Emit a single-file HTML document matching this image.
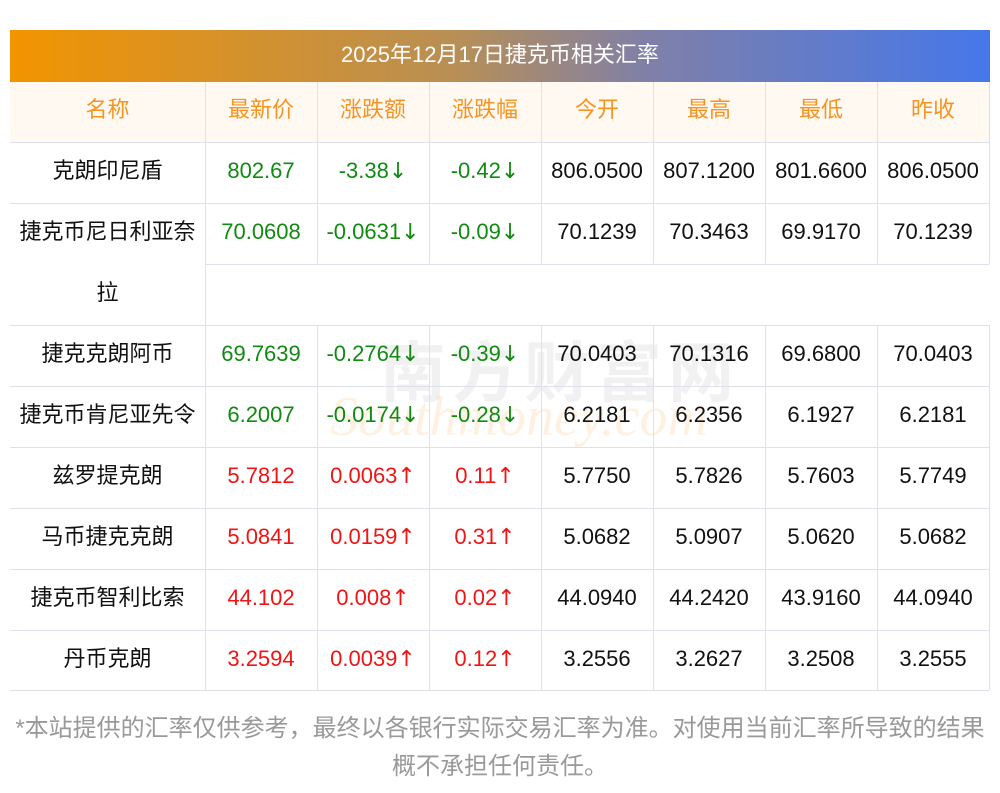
<!DOCTYPE html>
<html><head><meta charset="utf-8"><style>
body{margin:0;width:1000px;height:793px;background:#fff;position:relative;overflow:hidden;font-family:"Liberation Sans","Noto Sans CJK SC",sans-serif;}
.t{position:absolute;left:10px;top:30px;width:980px;height:52px;background:linear-gradient(90deg,#f29400,#b98f54 45%,#7f80a8 65%,#4677ea);color:#fff;font-size:22px;line-height:50px;text-align:center}
.hl{position:absolute;height:1px;background:#dde1ea}
.vl{position:absolute;width:1px;background:#dde1ea}
.c{position:absolute;height:61px;line-height:61px;text-align:center;font-size:22px;color:#111;white-space:nowrap}
.c span{font-family:"DejaVu Sans",sans-serif;font-size:22px}
.h{color:#f7931e}.g{color:#118a11}.r{color:#f01414}
.hd{position:absolute;left:10px;top:82px;width:979px;height:60px;background:#fff9f2}
.ft{position:absolute;left:0;width:1000px;text-align:center;font-size:24px;color:#999}
.wm{position:absolute;left:380px;top:320px;font-size:66px;color:rgba(200,200,200,.25);font-weight:bold;letter-spacing:6px}
.wm2{position:absolute;left:330px;top:385px;font-size:56px;color:rgba(250,200,140,.25);font-style:italic;font-family:"Liberation Serif",serif}
</style></head><body>
<div class="t">2025年12月17日捷克币相关汇率</div>
<div class="hd"></div>
<div class="wm">南方财富网</div>
<div class="wm2">Southmoney.com</div>
<div class="hl" style="left:10px;width:979px;top:142px"></div>
<div class="hl" style="left:10px;width:979px;top:203px"></div>
<div class="hl" style="left:205px;width:784px;top:264px"></div>
<div class="hl" style="left:10px;width:979px;top:325px"></div>
<div class="hl" style="left:10px;width:979px;top:386px"></div>
<div class="hl" style="left:10px;width:979px;top:447px"></div>
<div class="hl" style="left:10px;width:979px;top:508px"></div>
<div class="hl" style="left:10px;width:979px;top:569px"></div>
<div class="hl" style="left:10px;width:979px;top:630px"></div>
<div class="hl" style="left:10px;width:979px;top:690px"></div>
<div class="vl" style="left:205px;top:82px;height:608px"></div>
<div class="vl" style="left:317px;top:82px;height:182px"></div><div class="vl" style="left:317px;top:325px;height:365px"></div>
<div class="vl" style="left:429px;top:82px;height:182px"></div><div class="vl" style="left:429px;top:325px;height:365px"></div>
<div class="vl" style="left:541px;top:82px;height:182px"></div><div class="vl" style="left:541px;top:325px;height:365px"></div>
<div class="vl" style="left:653px;top:82px;height:182px"></div><div class="vl" style="left:653px;top:325px;height:365px"></div>
<div class="vl" style="left:765px;top:82px;height:182px"></div><div class="vl" style="left:765px;top:325px;height:365px"></div>
<div class="vl" style="left:877px;top:82px;height:182px"></div><div class="vl" style="left:877px;top:325px;height:365px"></div>
<div class="vl" style="left:989px;top:82px;height:182px"></div><div class="vl" style="left:989px;top:325px;height:365px"></div>

<div class="c h" style="left:10px;width:195px;top:79px">名称</div>
<div class="c h" style="left:205px;width:112px;top:79px">最新价</div>
<div class="c h" style="left:317px;width:112px;top:79px">涨跌额</div>
<div class="c h" style="left:429px;width:112px;top:79px">涨跌幅</div>
<div class="c h" style="left:541px;width:112px;top:79px">今开</div>
<div class="c h" style="left:653px;width:112px;top:79px">最高</div>
<div class="c h" style="left:765px;width:112px;top:79px">最低</div>
<div class="c h" style="left:877px;width:112px;top:79px">昨收</div>

<div class="c" style="left:10px;width:195px;top:140px">克朗印尼盾</div>
<div class="c g" style="left:205px;width:112px;top:140px">802.67</div>
<div class="c g" style="left:317px;width:112px;top:140px">-3.38<span>↓</span></div>
<div class="c g" style="left:429px;width:112px;top:140px">-0.42<span>↓</span></div>
<div class="c" style="left:541px;width:112px;top:140px">806.0500</div>
<div class="c" style="left:653px;width:112px;top:140px">807.1200</div>
<div class="c" style="left:765px;width:112px;top:140px">801.6600</div>
<div class="c" style="left:877px;width:112px;top:140px">806.0500</div>

<div class="c" style="left:10px;width:195px;top:201px">捷克币尼日利亚奈</div>
<div class="c" style="left:10px;width:195px;top:262px">拉</div>
<div class="c g" style="left:205px;width:112px;top:201px">70.0608</div>
<div class="c g" style="left:317px;width:112px;top:201px">-0.0631<span>↓</span></div>
<div class="c g" style="left:429px;width:112px;top:201px">-0.09<span>↓</span></div>
<div class="c" style="left:541px;width:112px;top:201px">70.1239</div>
<div class="c" style="left:653px;width:112px;top:201px">70.3463</div>
<div class="c" style="left:765px;width:112px;top:201px">69.9170</div>
<div class="c" style="left:877px;width:112px;top:201px">70.1239</div>

<div class="c" style="left:10px;width:195px;top:323px">捷克克朗阿币</div>
<div class="c g" style="left:205px;width:112px;top:323px">69.7639</div>
<div class="c g" style="left:317px;width:112px;top:323px">-0.2764<span>↓</span></div>
<div class="c g" style="left:429px;width:112px;top:323px">-0.39<span>↓</span></div>
<div class="c" style="left:541px;width:112px;top:323px">70.0403</div>
<div class="c" style="left:653px;width:112px;top:323px">70.1316</div>
<div class="c" style="left:765px;width:112px;top:323px">69.6800</div>
<div class="c" style="left:877px;width:112px;top:323px">70.0403</div>

<div class="c" style="left:10px;width:195px;top:384px">捷克币肯尼亚先令</div>
<div class="c g" style="left:205px;width:112px;top:384px">6.2007</div>
<div class="c g" style="left:317px;width:112px;top:384px">-0.0174<span>↓</span></div>
<div class="c g" style="left:429px;width:112px;top:384px">-0.28<span>↓</span></div>
<div class="c" style="left:541px;width:112px;top:384px">6.2181</div>
<div class="c" style="left:653px;width:112px;top:384px">6.2356</div>
<div class="c" style="left:765px;width:112px;top:384px">6.1927</div>
<div class="c" style="left:877px;width:112px;top:384px">6.2181</div>

<div class="c" style="left:10px;width:195px;top:445px">兹罗提克朗</div>
<div class="c r" style="left:205px;width:112px;top:445px">5.7812</div>
<div class="c r" style="left:317px;width:112px;top:445px">0.0063<span>↑</span></div>
<div class="c r" style="left:429px;width:112px;top:445px">0.11<span>↑</span></div>
<div class="c" style="left:541px;width:112px;top:445px">5.7750</div>
<div class="c" style="left:653px;width:112px;top:445px">5.7826</div>
<div class="c" style="left:765px;width:112px;top:445px">5.7603</div>
<div class="c" style="left:877px;width:112px;top:445px">5.7749</div>

<div class="c" style="left:10px;width:195px;top:506px">马币捷克克朗</div>
<div class="c r" style="left:205px;width:112px;top:506px">5.0841</div>
<div class="c r" style="left:317px;width:112px;top:506px">0.0159<span>↑</span></div>
<div class="c r" style="left:429px;width:112px;top:506px">0.31<span>↑</span></div>
<div class="c" style="left:541px;width:112px;top:506px">5.0682</div>
<div class="c" style="left:653px;width:112px;top:506px">5.0907</div>
<div class="c" style="left:765px;width:112px;top:506px">5.0620</div>
<div class="c" style="left:877px;width:112px;top:506px">5.0682</div>

<div class="c" style="left:10px;width:195px;top:567px">捷克币智利比索</div>
<div class="c r" style="left:205px;width:112px;top:567px">44.102</div>
<div class="c r" style="left:317px;width:112px;top:567px">0.008<span>↑</span></div>
<div class="c r" style="left:429px;width:112px;top:567px">0.02<span>↑</span></div>
<div class="c" style="left:541px;width:112px;top:567px">44.0940</div>
<div class="c" style="left:653px;width:112px;top:567px">44.2420</div>
<div class="c" style="left:765px;width:112px;top:567px">43.9160</div>
<div class="c" style="left:877px;width:112px;top:567px">44.0940</div>

<div class="c" style="left:10px;width:195px;top:628px">丹币克朗</div>
<div class="c r" style="left:205px;width:112px;top:628px">3.2594</div>
<div class="c r" style="left:317px;width:112px;top:628px">0.0039<span>↑</span></div>
<div class="c r" style="left:429px;width:112px;top:628px">0.12<span>↑</span></div>
<div class="c" style="left:541px;width:112px;top:628px">3.2556</div>
<div class="c" style="left:653px;width:112px;top:628px">3.2627</div>
<div class="c" style="left:765px;width:112px;top:628px">3.2508</div>
<div class="c" style="left:877px;width:112px;top:628px">3.2555</div>

<div class="ft" style="top:708px">*本站提供的汇率仅供参考，最终以各银行实际交易汇率为准。对使用当前汇率所导致的结果</div>
<div class="ft" style="top:746px">概不承担任何责任。</div>
</body></html>
